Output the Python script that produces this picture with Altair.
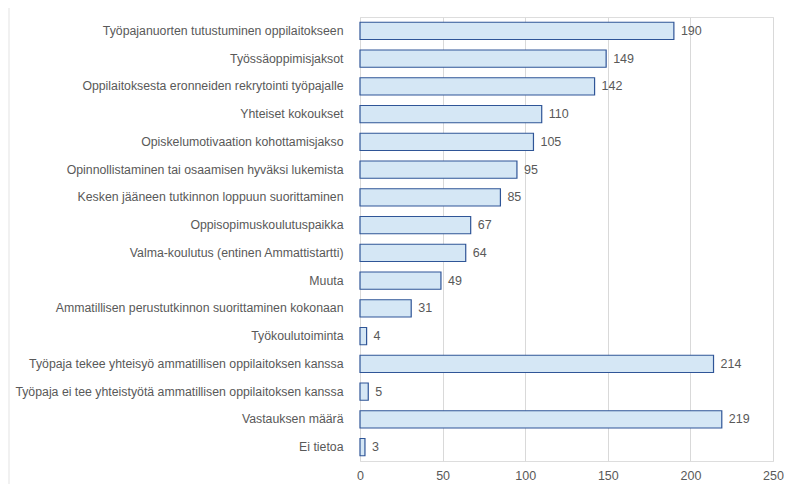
import altair as alt
import pandas as pd

categories = [
    "Työpajanuorten tutustuminen oppilaitokseen",
    "Työssäoppimisjaksot",
    "Oppilaitoksesta eronneiden rekrytointi työpajalle",
    "Yhteiset kokoukset",
    "Opiskelumotivaation kohottamisjakso",
    "Opinnollistaminen tai osaamisen hyväksi lukemista",
    "Kesken jääneen tutkinnon loppuun suorittaminen",
    "Oppisopimuskoulutuspaikka",
    "Valma-koulutus (entinen Ammattistartti)",
    "Muuta",
    "Ammatillisen perustutkinnon suorittaminen kokonaan",
    "Työkoulutoiminta",
    "Työpaja tekee yhteisyö ammatillisen oppilaitoksen kanssa",
    "Työpaja ei tee yhteistyötä ammatillisen oppilaitoksen kanssa",
    "Vastauksen määrä",
    "Ei tietoa",
]
values = [190, 149, 142, 110, 105, 95, 85, 67, 64, 49, 31, 4, 214, 5, 219, 3]

df = pd.DataFrame({"cat": categories, "val": values})

W, H = 413, 444
PADL = 352
FONT = "Liberation Sans"
GRAY = "#595959"

y_enc = alt.Y("cat:N", sort=categories,
              scale=alt.Scale(paddingInner=0.38, paddingOuter=0.19),
              axis=alt.Axis(title=None, ticks=False, domain=False, labelPadding=17,
                            labelFont=FONT, labelFontSize=12.3, labelColor=GRAY,
                            labelLimit=400))
x_enc = alt.X("val:Q", scale=alt.Scale(domain=[0, 250], nice=False),
              axis=alt.Axis(title=None, values=[0, 50, 100, 150, 200, 250],
                            ticks=False, domain=False, labelPadding=8, labelFlush=False,
                            grid=True, gridColor="#d9d9d9", gridWidth=1,
                            labelFont=FONT, labelFontSize=12.5, labelColor=GRAY))

base = alt.Chart(df)

bars = base.mark_bar(fill="#d5e7f5", stroke="#2f5597", strokeWidth=1.2).encode(
    x=x_enc, y=y_enc
)
labels = base.mark_text(align="left", baseline="middle", dx=7, font=FONT,
                        fontSize=12.5, color=GRAY).encode(
    x="val:Q", y=alt.Y("cat:N", sort=categories), text="val:Q"
)

border = alt.Chart(pd.DataFrame({"a": [0]})).mark_rect(
    fill=None, stroke="#e3e3e3", strokeWidth=1, clip=False
).encode(x=alt.value(-(PADL - 1)), x2=alt.value(W + 60), y=alt.value(-12), y2=alt.value(H + 60))

chart = alt.layer(border, bars, labels).properties(
    width=W, height=H,
    autosize=alt.AutoSizeParams(type="none"),
    padding={"left": PADL, "top": 9, "right": 11, "bottom": 23},
).configure_view(stroke=None).configure(background="white")

chart.save("out.html", embed_options={"renderer": "svg", "actions": False})
